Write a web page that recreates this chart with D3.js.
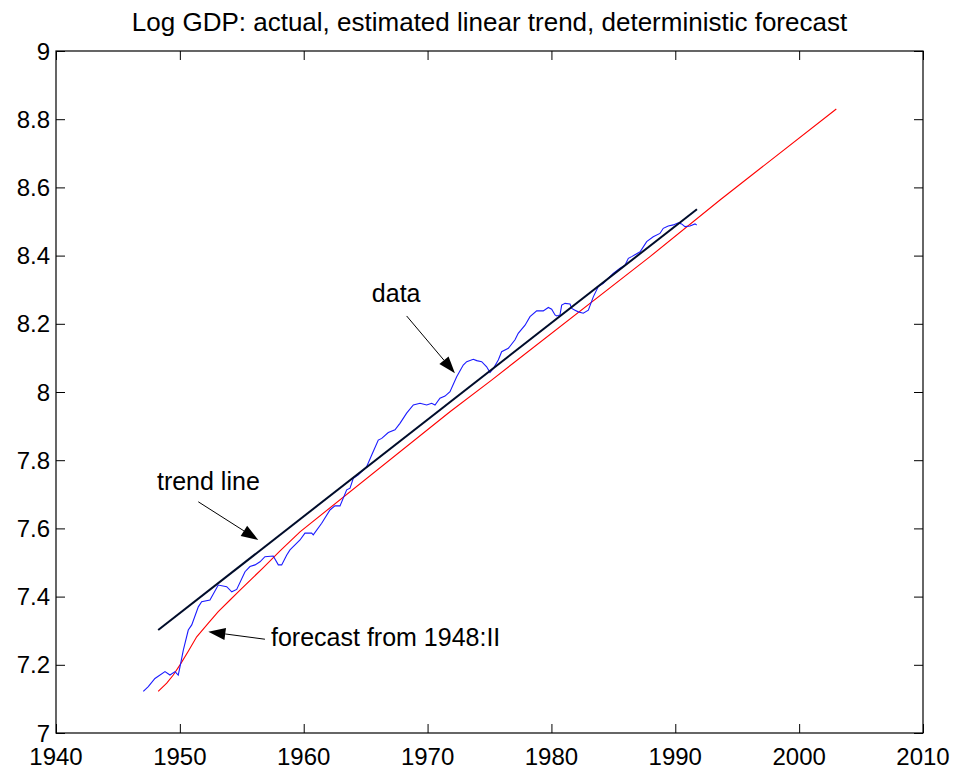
<!DOCTYPE html>
<html>
<head>
<meta charset="utf-8">
<script src="https://cdn.jsdelivr.net/npm/d3@7"></script>
<style>
  body { margin: 0; background: #fff; }
  text { font-family: "Liberation Sans", Arial, sans-serif; fill: #000; }
</style>
</head>
<body>
<svg width="957" height="776"></svg>
<script>
"use strict";

// log GDP, quarterly-ish points
var dataYears = [1947.05, 1947.45, 1947.99, 1948.8, 1949.2, 1949.61, 1949.87, 1950.01, 1950.28, 1950.68,
  1950.96, 1951.49, 1951.76, 1952.43, 1953.1, 1953.78, 1954.19, 1954.59, 1955.26, 1955.66,
  1956.07, 1956.47, 1956.87, 1957.54, 1957.95, 1958.22, 1958.63, 1958.89, 1959.7, 1960.1,
  1960.64, 1960.77, 1961.45, 1962.12, 1962.52, 1962.93, 1963.47, 1963.74, 1964.0, 1964.41,
  1965.08, 1965.49, 1966.02, 1966.3, 1966.83, 1967.37, 1967.77, 1968.31, 1968.85, 1969.39,
  1969.93, 1970.33, 1970.6, 1971.0, 1971.41, 1971.81, 1972.35, 1972.88, 1973.16, 1973.69,
  1973.97, 1974.37, 1974.77, 1975.04, 1975.31, 1975.71, 1975.98, 1976.52, 1977.06, 1977.32,
  1977.87, 1978.27, 1978.81, 1979.34, 1979.75, 1980.02, 1980.29, 1980.42, 1980.69, 1980.83,
  1981.1, 1981.5, 1981.64, 1981.9, 1982.17, 1982.57, 1982.98, 1983.38, 1983.78, 1984.19,
  1984.99, 1985.54, 1985.94, 1986.21, 1986.48, 1987.16, 1987.69, 1988.22, 1988.76, 1989.03,
  1989.43, 1989.84, 1990.24, 1990.51, 1990.78, 1991.19, 1991.59, 1991.73];
var dataValues = [7.122, 7.136, 7.160, 7.180, 7.170, 7.180, 7.170, 7.194, 7.243, 7.302,
  7.317, 7.370, 7.385, 7.390, 7.434, 7.429, 7.414, 7.421, 7.473, 7.488,
  7.493, 7.502, 7.517, 7.519, 7.493, 7.493, 7.522, 7.537, 7.566, 7.586,
  7.586, 7.581, 7.615, 7.654, 7.666, 7.666, 7.713, 7.718, 7.747, 7.757,
  7.781, 7.815, 7.859, 7.864, 7.881, 7.889, 7.908, 7.938, 7.962, 7.967,
  7.962, 7.967, 7.962, 7.982, 7.988, 8.001, 8.045, 8.079, 8.089, 8.096,
  8.092, 8.089, 8.074, 8.057, 8.069, 8.094, 8.118, 8.128, 8.153, 8.172,
  8.196, 8.221, 8.238, 8.238, 8.248, 8.243, 8.226, 8.223, 8.226, 8.255,
  8.260, 8.258, 8.245, 8.240, 8.235, 8.231, 8.240, 8.279, 8.309, 8.319,
  8.348, 8.363, 8.372, 8.392, 8.397, 8.411, 8.441, 8.455, 8.465, 8.480,
  8.487, 8.490, 8.496, 8.493, 8.485, 8.487, 8.493, 8.490];

// estimated linear trend (end points)
var trendYears = [1948.25, 1991.75];
var trendValues = [7.302, 8.536];

// deterministic forecast from 1948:II
var forecastYears = [1948.25, 1948.94, 1949.47, 1950.0, 1950.68, 1951.36, 1952.3, 1953.1, 1954.05, 1954.86,
  1955.8, 1956.74, 1958.09, 1959.7, 1971.81, 1975.17, 1987.96, 1993.61, 2003.0];
var forecastValues = [7.122, 7.146, 7.170, 7.199, 7.240, 7.282, 7.322, 7.356, 7.390, 7.419,
  7.452, 7.485, 7.534, 7.590, 7.942, 8.035, 8.397, 8.563, 8.830];

var xTicks = [1940, 1950, 1960, 1970, 1980, 1990, 2000, 2010];
var yTicks = [7, 7.2, 7.4, 7.6, 7.8, 8, 8.2, 8.4, 8.6, 8.8, 9];

var labels = ["data", "trend line", "forecast from 1948:II"];
var labelPos = [[1965.5, 8.264], [1948.15, 7.713], [1957.36, 7.255]];
var arrowFrom = [[1968.31, 8.223], [1951.49, 7.678], [1956.87, 7.275]];
var arrowTo = [[1972.21, 8.055], [1956.33, 7.566], [1952.3, 7.297]];

var title = "Log GDP: actual, estimated linear trend, deterministic forecast";

var svg = d3.select("svg");
var m = { left: 56, right: 923, top: 51, bottom: 733 };

var x = d3.scaleLinear().domain([1940, 2010]).range([m.left, m.right]);
var y = d3.scaleLinear().domain([7, 9]).range([m.bottom, m.top]);
var fmt = d3.format(".1~f");

svg.append("text")
  .attr("x", (m.left + m.right) / 2)
  .attr("y", 31)
  .attr("text-anchor", "middle")
  .style("font-size", "26px")
  .text(title);

// axes, ticks pointing inward on all four sides like matlab
var tickLen = 9;
var axisB = svg.append("g").attr("transform", "translate(0," + m.bottom + ")")
  .call(d3.axisTop(x).tickValues(xTicks).tickSize(tickLen).tickFormat(""));
var axisT = svg.append("g").attr("transform", "translate(0," + m.top + ")")
  .call(d3.axisBottom(x).tickValues(xTicks).tickSize(tickLen).tickFormat(""));
var axisL = svg.append("g").attr("transform", "translate(" + m.left + ",0)")
  .call(d3.axisRight(y).tickValues(yTicks).tickSize(tickLen).tickFormat(""));
var axisR = svg.append("g").attr("transform", "translate(" + m.right + ",0)")
  .call(d3.axisLeft(y).tickValues(yTicks).tickSize(tickLen).tickFormat(""));
[axisB, axisT, axisL, axisR].forEach(function (g) {
  g.select(".domain").remove();
  g.selectAll(".tick line").attr("stroke", "#000").attr("stroke-width", 1);
});

svg.append("rect")
  .attr("x", m.left).attr("y", m.top)
  .attr("width", m.right - m.left).attr("height", m.bottom - m.top)
  .attr("fill", "none").attr("stroke", "#000").attr("stroke-width", 1.2);

svg.append("g").selectAll("text").data(xTicks).enter().append("text")
  .attr("x", function (d) { return x(d); })
  .attr("y", 765)
  .attr("text-anchor", "middle")
  .style("font-size", "24px")
  .text(function (d) { return d; });

svg.append("g").selectAll("text").data(yTicks).enter().append("text")
  .attr("x", m.left - 6)
  .attr("y", function (d) { return y(d); })
  .attr("dy", "0.36em")
  .attr("text-anchor", "end")
  .style("font-size", "24px")
  .text(function (d) { return fmt(d); });

var line = d3.line()
  .x(function (d) { return x(d[0]); })
  .y(function (d) { return y(d[1]); });

var plot = svg.append("g");

plot.append("path")
  .datum(d3.zip(forecastYears, forecastValues))
  .attr("d", line)
  .attr("fill", "none").attr("stroke", "#ff0000").attr("stroke-width", 1.1);

plot.append("path")
  .datum(d3.zip(dataYears, dataValues))
  .attr("d", line)
  .attr("fill", "none").attr("stroke", "#1a1aff").attr("stroke-width", 1.1);

plot.append("path")
  .datum(d3.zip(trendYears, trendValues))
  .attr("d", line)
  .attr("fill", "none").attr("stroke", "#000c2a").attr("stroke-width", 2);

// annotations with filled arrow heads
var notes = svg.append("g");
labels.forEach(function (t, i) {
  notes.append("text")
    .attr("x", x(labelPos[i][0]))
    .attr("y", y(labelPos[i][1]))
    .style("font-size", "25px")
    .text(t);

  var x0 = x(arrowFrom[i][0]), y0 = y(arrowFrom[i][1]);
  var x1 = x(arrowTo[i][0]), y1 = y(arrowTo[i][1]);
  var len = Math.sqrt((x1 - x0) * (x1 - x0) + (y1 - y0) * (y1 - y0));
  var ux = (x1 - x0) / len, uy = (y1 - y0) / len;
  var headL = 17, headW = 6;
  var bx = x1 - ux * headL, by = y1 - uy * headL;

  notes.append("line")
    .attr("x1", x0).attr("y1", y0).attr("x2", bx).attr("y2", by)
    .attr("stroke", "#000").attr("stroke-width", 1);
  notes.append("path")
    .attr("d", "M" + x1 + "," + y1 +
      "L" + (bx - uy * headW) + "," + (by + ux * headW) +
      "L" + (bx + uy * headW) + "," + (by - ux * headW) + "Z")
    .attr("fill", "#000");
});
</script>
</body>
</html>
